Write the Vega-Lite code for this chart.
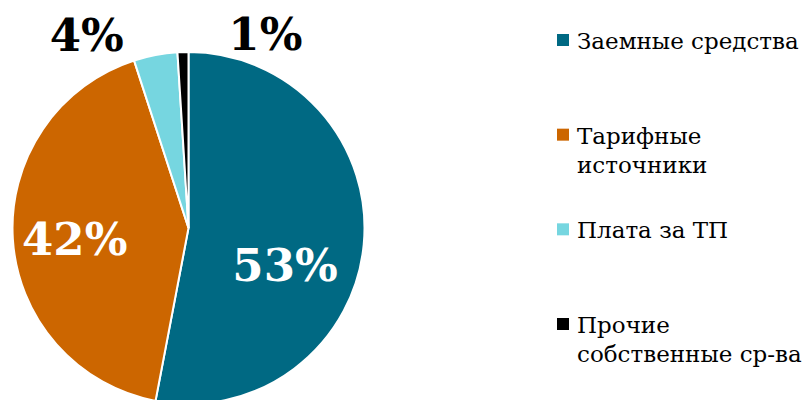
{
  "$schema": "https://vega.github.io/schema/vega-lite/v6.json",
  "padding": 0,
  "bounds": "flush",
  "background": "white",
  "spacing": 186,
  "config": {"view": {"stroke": null}},
  "datasets": {
    "src": [
      {"cat": "Заемные средства", "label": "Заемные средства", "value": 53, "ord": 1, "pct": "53%"},
      {"cat": "Тарифные источники", "label": "Тарифные\nисточники", "value": 42, "ord": 2, "pct": "42%"},
      {"cat": "Плата за ТП", "label": "Плата за ТП", "value": 4, "ord": 3, "pct": "4%"},
      {"cat": "Прочие собственные ср-ва", "label": "Прочие\nсобственные ср-ва", "value": 1, "ord": 4, "pct": "1%"}
    ]
  },
  "hconcat": [
    {
      "width": 377,
      "height": 400,
      "data": {"name": "src"},
      "encoding": {
        "theta": {"field": "value", "type": "quantitative", "stack": true},
        "order": {"field": "ord", "type": "quantitative"}
      },
      "layer": [
        {
          "mark": {"type": "arc", "outerRadius": 176, "stroke": "white", "strokeWidth": 2, "yOffset": 28},
          "encoding": {
            "color": {
              "field": "cat", "type": "nominal", "legend": null,
              "scale": {
                "domain": ["Заемные средства", "Тарифные источники", "Плата за ТП", "Прочие собственные ср-ва"],
                "range": ["#006983", "#CC6600", "#76D6E0", "#000000"]
              }
            }
          }
        },
        {
          "mark": {"type": "text", "radius": 106, "dx": -9, "dy": 57, "font": "DejaVu Serif", "fontSize": 45, "fontWeight": "bold", "fill": "white", "align": "center", "baseline": "middle"},
          "encoding": {"text": {"condition": {"test": "datum.ord == 1", "field": "pct"}, "value": ""}}
        },
        {
          "mark": {"type": "text", "radius": 114, "dx": 0, "dy": 34, "font": "DejaVu Serif", "fontSize": 45, "fontWeight": "bold", "fill": "white", "align": "center", "baseline": "middle"},
          "encoding": {"text": {"condition": {"test": "datum.ord == 2", "field": "pct"}, "value": ""}}
        },
        {
          "mark": {"type": "text", "radius": 100, "dx": -83, "dy": -65, "font": "DejaVu Serif", "fontSize": 45, "fontWeight": "bold", "fill": "black", "align": "center", "baseline": "middle"},
          "encoding": {"text": {"condition": {"test": "datum.ord == 3", "field": "pct"}, "value": ""}}
        },
        {
          "mark": {"type": "text", "radius": 100, "dx": 80, "dy": -64, "font": "DejaVu Serif", "fontSize": 45, "fontWeight": "bold", "fill": "black", "align": "center", "baseline": "middle"},
          "encoding": {"text": {"condition": {"test": "datum.ord == 4", "field": "pct"}, "value": ""}}
        }
      ]
    },
    {
      "width": 241,
      "height": 400,
      "data": {"name": "src"},
      "encoding": {
        "x": {"datum": 0, "type": "quantitative", "axis": null, "scale": {"domain": [0, 1]}},
        "y": {
          "field": "cat", "type": "nominal", "axis": null,
          "scale": {
            "type": "point", "padding": 0, "range": [40, 324],
            "domain": ["Заемные средства", "Тарифные источники", "Плата за ТП", "Прочие собственные ср-ва"]
          }
        }
      },
      "layer": [
        {
          "mark": {"type": "square", "size": 144, "opacity": 1, "filled": true},
          "encoding": {"color": {"field": "cat", "type": "nominal", "legend": null}}
        },
        {
          "mark": {"type": "text", "align": "left", "baseline": "alphabetic", "dx": 14, "dy": 9, "font": "DejaVu Serif", "fontSize": 23, "lineBreak": "\n", "lineHeight": 29, "fill": "black"},
          "encoding": {"text": {"field": "label"}}
        }
      ]
    }
  ]
}
